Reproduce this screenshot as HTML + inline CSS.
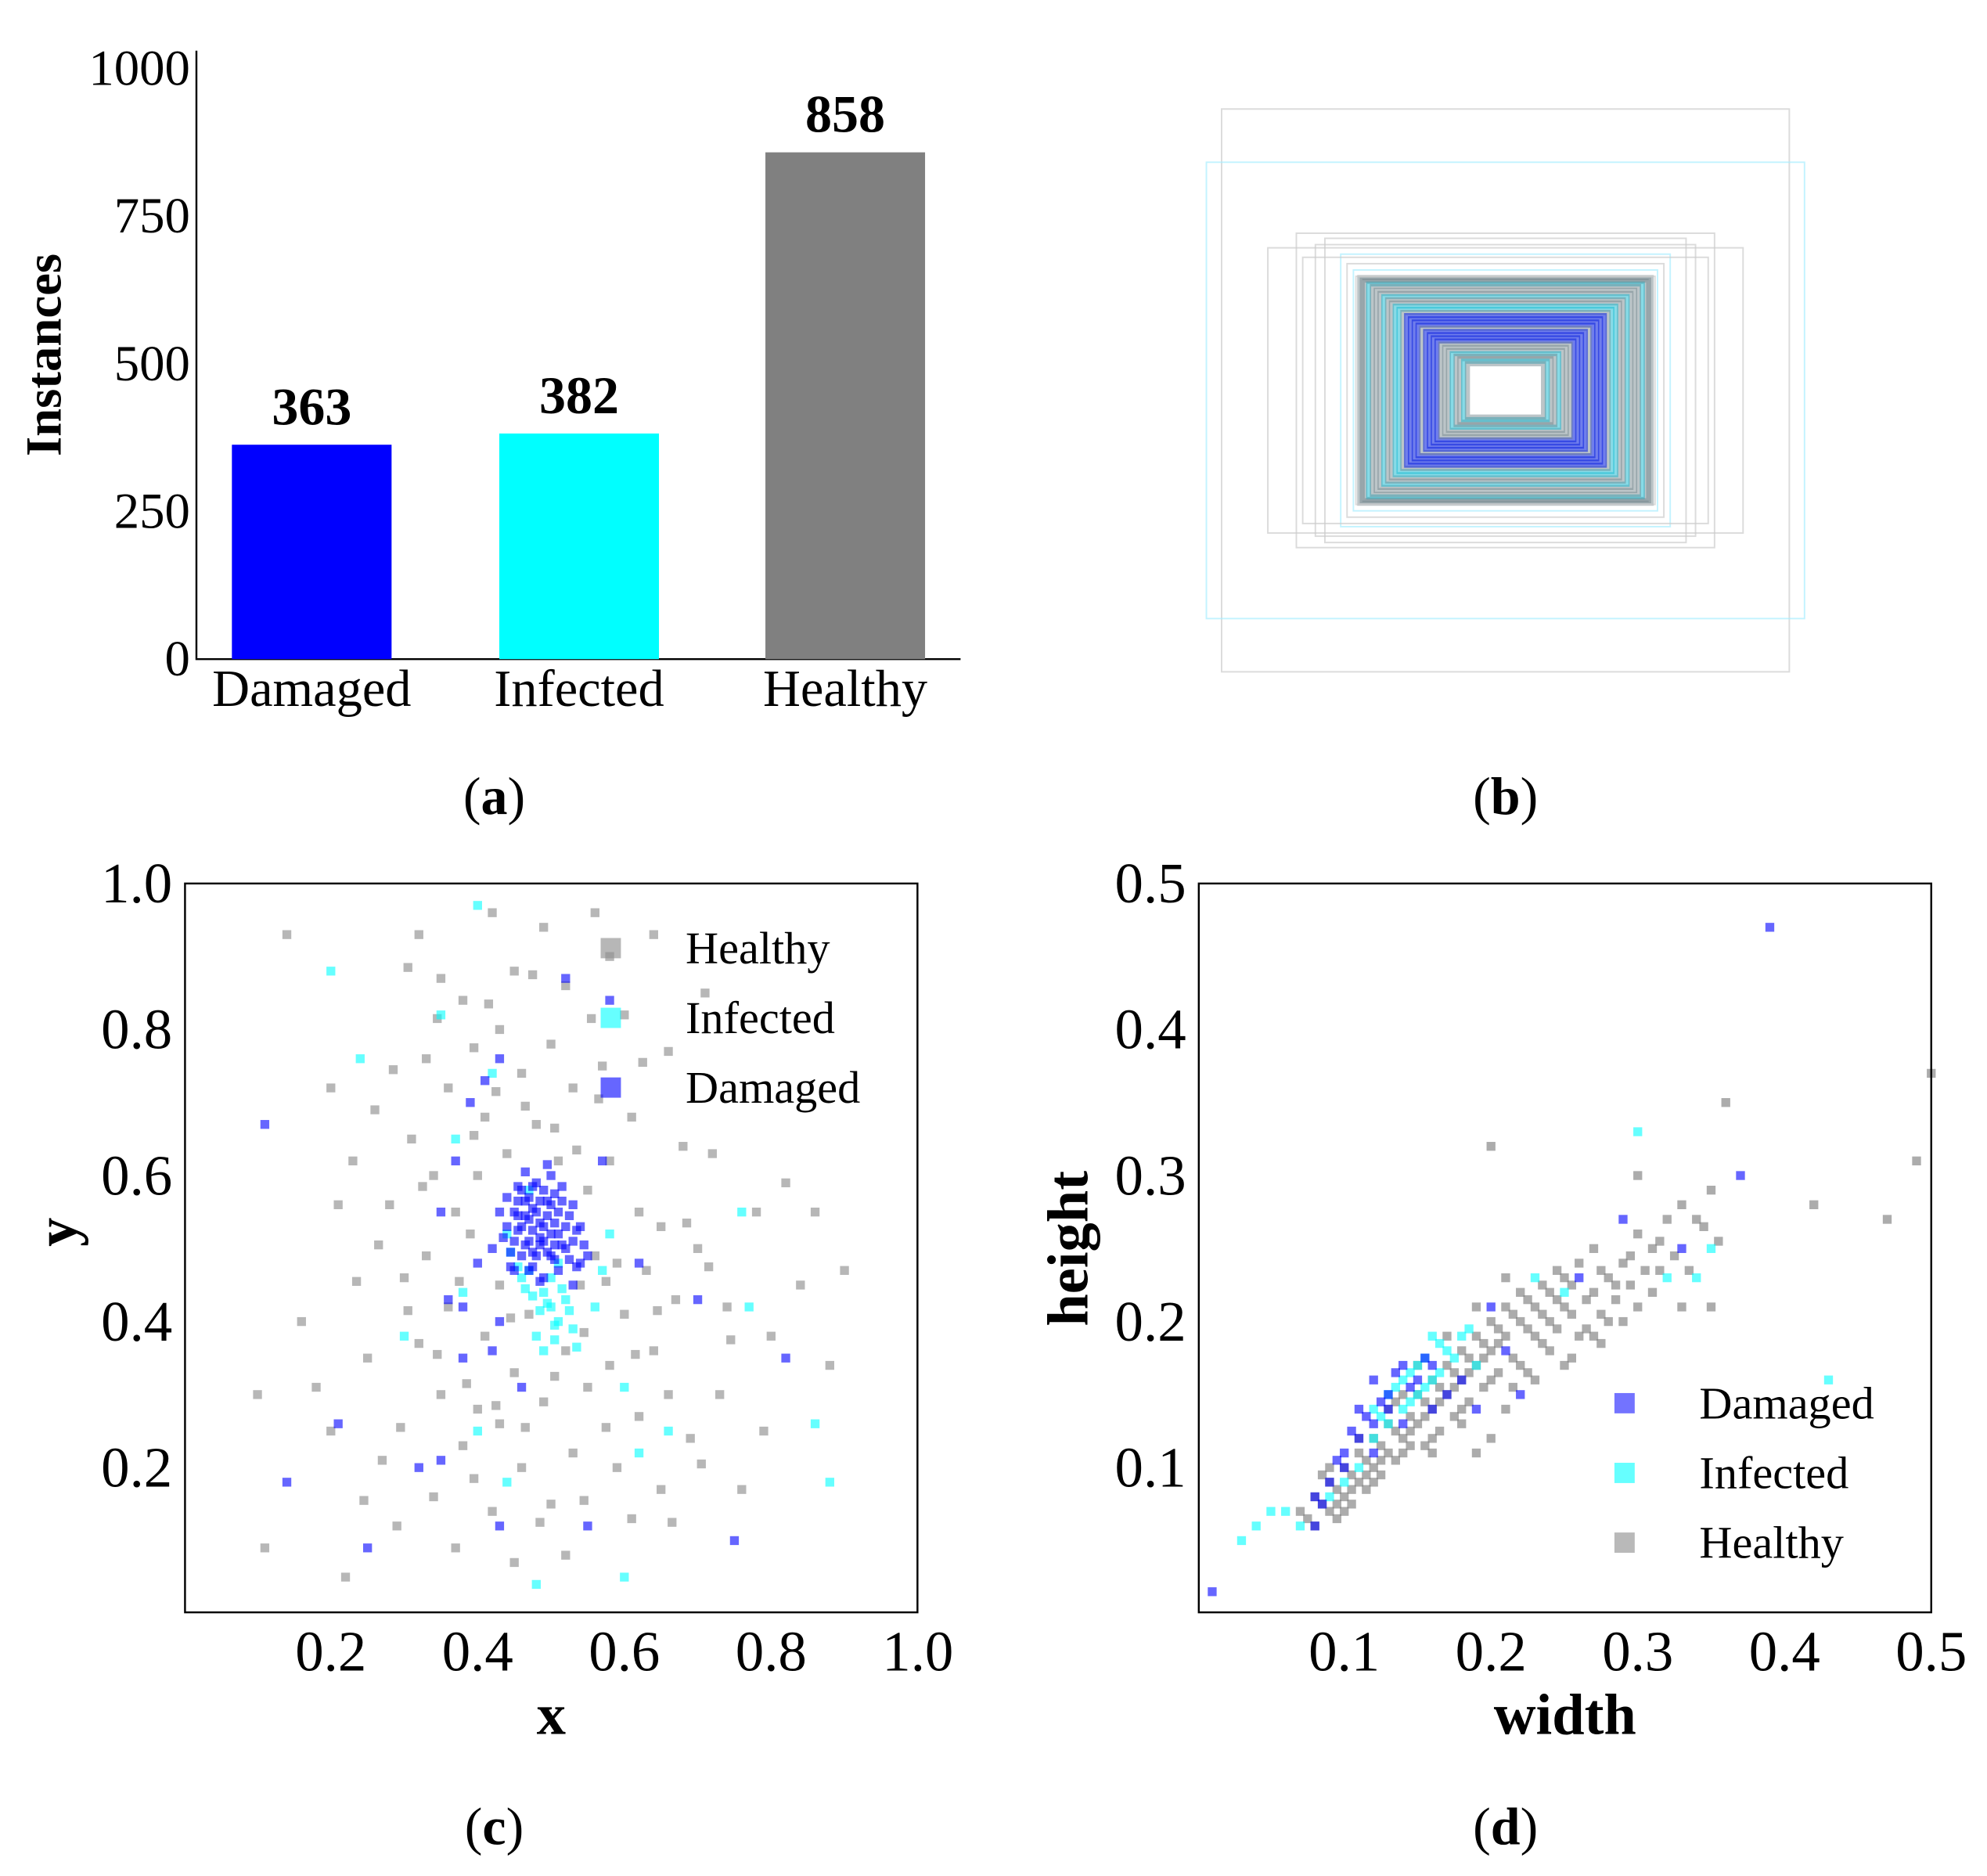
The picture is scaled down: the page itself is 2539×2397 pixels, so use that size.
<!DOCTYPE html>
<html><head><meta charset="utf-8"><style>
html,body{margin:0;padding:0;background:#fff}
svg{display:block;font-family:"Liberation Serif",serif}
</style></head><body>
<svg id="fig" width="2539" height="2397" viewBox="0 0 1568 1480" preserveAspectRatio="none">
<g id="pa"></g>
<g id="pb"></g>
<g id="pc"></g>
<g id="pd"></g>
<text x="390" y="642" font-size="42" text-anchor="middle">(<tspan font-weight="bold">a</tspan>)</text>
<text x="1188" y="642" font-size="42" text-anchor="middle">(<tspan font-weight="bold">b</tspan>)</text>
<text x="390" y="1455" font-size="42" text-anchor="middle">(<tspan font-weight="bold">c</tspan>)</text>
<text x="1188" y="1455" font-size="42" text-anchor="middle">(<tspan font-weight="bold">d</tspan>)</text>
</svg>
<script>
// ---- Panel A data
const barCategories = ["Damaged","Infected","Healthy"];
const barValues = [363, 382, 858];
const barColors = ["#0000ff","#00ffff","#808080"];
const barTicks = [0,250,500,750,1000];
// ---- Panel B data (box width, height in figure px, class)
const boxW = [448,472,285,260,320,375,330,230,222,216,210,204,198,192,186,180,174,168,162,156,150,144,138,132,126,120,114,108,102,96,90,84,78,72,66,60,250,240,300,236,226];
const boxH = [444,360,240,215,210,225,248,178,172,168,164,158,153,148,143,138,133,128,123,118,113,108,103,98,93,88,83,78,73,68,63,58,54,50,46,42,200,190,230,180,174];
const boxCls = [0,1,0,1,0,0,0,0,0,1,0,0,0,1,0,0,1,1,0,2,2,2,2,0,2,2,2,2,0,0,0,1,0,0,1,0,0,1,0,0,0];
// ---- Panel C data
const healthyC = [[0.14,0.93],[0.2,0.72],[0.23,0.62],[0.21,0.56],[0.16,0.4],[0.18,0.31],[0.1,0.3],[0.11,0.09],[0.2,0.25],[0.26,0.69],[0.28,0.56],[0.3,0.46],[0.25,0.35],[0.27,0.21],[0.29,0.12],[0.22,0.05],[0.32,0.93],[0.35,0.87],[0.38,0.84],[0.33,0.76],[0.36,0.72],[0.31,0.65],[0.34,0.6],[0.37,0.55],[0.33,0.49],[0.36,0.42],[0.32,0.37],[0.35,0.3],[0.38,0.23],[0.34,0.16],[0.37,0.09],[0.42,0.96],[0.45,0.88],[0.43,0.8],[0.46,0.74],[0.41,0.68],[0.44,0.63],[0.4,0.6],[0.43,0.45],[0.41,0.38],[0.45,0.33],[0.43,0.26],[0.46,0.2],[0.42,0.14],[0.45,0.07],[0.49,0.94],[0.52,0.86],[0.5,0.78],[0.53,0.72],[0.48,0.67],[0.51,0.62],[0.55,0.58],[0.54,0.45],[0.52,0.36],[0.49,0.29],[0.53,0.22],[0.5,0.15],[0.52,0.08],[0.56,0.96],[0.58,0.9],[0.6,0.82],[0.57,0.75],[0.61,0.68],[0.58,0.62],[0.62,0.55],[0.59,0.48],[0.6,0.41],[0.58,0.34],[0.62,0.27],[0.59,0.2],[0.61,0.13],[0.64,0.93],[0.66,0.77],[0.68,0.64],[0.65,0.53],[0.67,0.43],[0.64,0.36],[0.66,0.3],[0.69,0.24],[0.65,0.17],[0.7,0.5],[0.72,0.63],[0.74,0.42],[0.73,0.3],[0.76,0.17],[0.78,0.55],[0.8,0.38],[0.82,0.59],[0.84,0.45],[0.86,0.55],[0.88,0.34],[0.9,0.47],[0.79,0.25],[0.71,0.85],[0.39,0.52],[0.56,0.49],[0.47,0.41],[0.4,0.28],[0.55,0.31],[0.63,0.47],[0.285,0.745],[0.305,0.885],[0.345,0.815],[0.395,0.775],[0.425,0.715],[0.465,0.695],[0.505,0.665],[0.535,0.635],[0.565,0.705],[0.395,0.655],[0.325,0.585],[0.265,0.505],[0.235,0.455],[0.305,0.415],[0.345,0.355],[0.385,0.315],[0.425,0.285],[0.465,0.255],[0.505,0.325],[0.545,0.385],[0.575,0.255],[0.615,0.355],[0.645,0.415],[0.685,0.535],[0.715,0.475],[0.545,0.155],[0.485,0.125],[0.395,0.185],[0.295,0.255],[0.245,0.155],[0.665,0.125],[0.705,0.205],[0.745,0.375],[0.475,0.875],[0.415,0.835],[0.555,0.815],[0.625,0.755],[0.445,0.405],[0.575,0.455],[0.375,0.455]];
const infectedC = [[0.2,0.88],[0.24,0.76],[0.35,0.82],[0.37,0.65],[0.4,0.97],[0.42,0.74],[0.47,0.58],[0.49,0.44],[0.5,0.42],[0.51,0.4],[0.48,0.38],[0.52,0.43],[0.5,0.46],[0.46,0.46],[0.53,0.39],[0.49,0.36],[0.47,0.47],[0.51,0.48],[0.58,0.52],[0.6,0.31],[0.62,0.22],[0.57,0.47],[0.38,0.44],[0.4,0.25],[0.44,0.18],[0.48,0.04],[0.3,0.38],[0.77,0.42],[0.86,0.26],[0.88,0.18],[0.6,0.05],[0.66,0.25],[0.76,0.55],[0.56,0.42],[0.44,0.52],[0.485,0.415],[0.505,0.395],[0.495,0.425],[0.515,0.445],[0.475,0.435],[0.525,0.415],[0.465,0.445],[0.505,0.375],[0.535,0.365],[0.455,0.475],[0.445,0.495]];
const damagedC = [[0.11,0.67],[0.14,0.18],[0.21,0.26],[0.25,0.09],[0.32,0.2],[0.36,0.43],[0.38,0.35],[0.35,0.55],[0.37,0.62],[0.41,0.73],[0.43,0.76],[0.52,0.87],[0.58,0.84],[0.44,0.57],[0.45,0.55],[0.46,0.53],[0.47,0.51],[0.48,0.55],[0.49,0.53],[0.5,0.52],[0.51,0.55],[0.52,0.53],[0.47,0.57],[0.49,0.58],[0.5,0.56],[0.46,0.49],[0.48,0.49],[0.5,0.49],[0.52,0.5],[0.45,0.51],[0.53,0.51],[0.44,0.53],[0.47,0.47],[0.49,0.46],[0.51,0.47],[0.48,0.59],[0.46,0.58],[0.53,0.56],[0.43,0.55],[0.54,0.53],[0.45,0.47],[0.5,0.6],[0.47,0.54],[0.49,0.51],[0.51,0.52],[0.55,0.49],[0.42,0.5],[0.4,0.48],[0.54,0.48],[0.53,0.45],[0.38,0.42],[0.42,0.36],[0.46,0.31],[0.35,0.21],[0.43,0.12],[0.55,0.12],[0.62,0.48],[0.7,0.43],[0.75,0.1],[0.82,0.35],[0.57,0.62],[0.39,0.7],[0.43,0.4],[0.455,0.545],[0.465,0.565],[0.475,0.525],[0.485,0.505],[0.495,0.545],[0.505,0.535],[0.515,0.505],[0.525,0.545],[0.485,0.565],[0.465,0.505],[0.455,0.525],[0.495,0.495],[0.505,0.575],[0.475,0.585],[0.445,0.495],[0.535,0.525],[0.475,0.495],[0.515,0.565],[0.465,0.545],[0.485,0.535],[0.495,0.565],[0.505,0.505],[0.455,0.565],[0.525,0.485],[0.435,0.515],[0.545,0.505],[0.475,0.475],[0.485,0.455],[0.465,0.605],[0.495,0.615],[0.455,0.585],[0.515,0.585],[0.535,0.475],[0.445,0.475],[0.485,0.515],[0.475,0.555],[0.505,0.485]];
// ---- Panel D data (width, height)
const damagedD = [[0.01,0.015],[0.08,0.06],[0.1,0.1],[0.11,0.12],[0.12,0.13],[0.1,0.11],[0.09,0.09],[0.13,0.15],[0.12,0.16],[0.14,0.17],[0.13,0.14],[0.11,0.14],[0.15,0.16],[0.16,0.17],[0.12,0.11],[0.17,0.15],[0.18,0.16],[0.2,0.21],[0.21,0.18],[0.26,0.23],[0.29,0.27],[0.33,0.25],[0.37,0.3],[0.39,0.47],[0.22,0.15],[0.14,0.13],[0.16,0.14],[0.08,0.08],[0.19,0.14],[0.105,0.125],[0.115,0.135],[0.125,0.145],[0.135,0.165],[0.095,0.105],[0.145,0.155],[0.155,0.175],[0.085,0.075]];
const infectedD = [[0.03,0.05],[0.04,0.06],[0.05,0.07],[0.06,0.07],[0.07,0.06],[0.09,0.08],[0.11,0.1],[0.12,0.14],[0.13,0.15],[0.14,0.16],[0.15,0.17],[0.13,0.13],[0.14,0.14],[0.16,0.19],[0.15,0.15],[0.17,0.18],[0.12,0.12],[0.16,0.16],[0.18,0.19],[0.19,0.17],[0.25,0.22],[0.3,0.33],[0.32,0.23],[0.34,0.23],[0.35,0.25],[0.43,0.16],[0.23,0.23],[0.1,0.09],[0.135,0.155],[0.145,0.165],[0.155,0.155],[0.165,0.185],[0.175,0.175],[0.125,0.135],[0.185,0.195],[0.145,0.145],[0.155,0.175],[0.165,0.165]];
const healthyD = [[0.07,0.07],[0.08,0.06],[0.08,0.08],[0.09,0.07],[0.09,0.09],[0.1,0.08],[0.1,0.1],[0.11,0.09],[0.11,0.11],[0.12,0.1],[0.12,0.12],[0.13,0.11],[0.13,0.13],[0.14,0.12],[0.14,0.15],[0.15,0.13],[0.15,0.15],[0.16,0.14],[0.16,0.16],[0.17,0.15],[0.17,0.17],[0.18,0.16],[0.18,0.18],[0.19,0.17],[0.19,0.19],[0.2,0.18],[0.2,0.2],[0.21,0.19],[0.21,0.21],[0.22,0.2],[0.22,0.22],[0.23,0.21],[0.23,0.19],[0.24,0.22],[0.24,0.2],[0.25,0.23],[0.25,0.21],[0.26,0.24],[0.27,0.22],[0.27,0.25],[0.28,0.23],[0.29,0.24],[0.3,0.26],[0.31,0.25],[0.32,0.27],[0.33,0.28],[0.34,0.27],[0.35,0.29],[0.36,0.35],[0.3,0.3],[0.2,0.32],[0.42,0.28],[0.47,0.27],[0.49,0.31],[0.5,0.37],[0.21,0.23],[0.19,0.21],[0.17,0.19],[0.15,0.17],[0.13,0.14],[0.11,0.12],[0.09,0.1],[0.1,0.07],[0.12,0.09],[0.14,0.11],[0.16,0.12],[0.18,0.14],[0.2,0.16],[0.22,0.17],[0.24,0.18],[0.26,0.19],[0.28,0.2],[0.3,0.21],[0.18,0.13],[0.2,0.12],[0.19,0.11],[0.16,0.11],[0.21,0.14],[0.23,0.16],[0.25,0.17],[0.27,0.19],[0.29,0.2],[0.31,0.22],[0.33,0.21],[0.35,0.21],[0.075,0.065],[0.085,0.075],[0.095,0.085],[0.105,0.095],[0.115,0.105],[0.125,0.115],[0.135,0.125],[0.145,0.135],[0.155,0.145],[0.165,0.155],[0.175,0.165],[0.185,0.175],[0.195,0.185],[0.205,0.195],[0.215,0.205],[0.225,0.215],[0.235,0.205],[0.245,0.215],[0.255,0.225],[0.265,0.215],[0.275,0.235],[0.285,0.225],[0.295,0.245],[0.305,0.235],[0.315,0.255],[0.325,0.245],[0.345,0.265],[0.355,0.255],[0.085,0.095],[0.095,0.075],[0.105,0.085],[0.115,0.095],[0.125,0.105],[0.135,0.145],[0.145,0.125],[0.155,0.135],[0.165,0.145],[0.175,0.155],[0.185,0.165],[0.195,0.175],[0.205,0.185],[0.215,0.175],[0.225,0.195],[0.235,0.185],[0.245,0.195],[0.255,0.205],[0.265,0.195],[0.275,0.205],[0.285,0.215],[0.205,0.165],[0.195,0.155],[0.185,0.145],[0.215,0.155],[0.225,0.165],[0.175,0.135],[0.165,0.125],[0.155,0.115],[0.105,0.075],[0.095,0.065],[0.115,0.085],[0.125,0.095],[0.135,0.105],[0.145,0.115],[0.295,0.225],[0.315,0.235],[0.335,0.235],[0.245,0.235],[0.235,0.225],[0.275,0.185],[0.255,0.175]];

const NS="http://www.w3.org/2000/svg";
function el(parent,tag,attrs,text){const e=document.createElementNS(NS,tag);for(const k in attrs)e.setAttribute(k,attrs[k]);if(text!==undefined)e.textContent=text;parent.appendChild(e);return e;}

// ---- Panel A
const pa=document.getElementById('pa');
const ay=v=>520-v*0.466;
const barX=[183,394,604], barW=126;
let ln=el(pa,'path',{d:'M155 40 V520 H758',stroke:'#000','stroke-width':1.5,fill:'none'});


barTicks.forEach(t=>{
  const tx=el(pa,'text',{x:150,y:ay(t)+13,'font-size':40,'text-anchor':'end'},String(t));
  
  
});
barValues.forEach((v,i)=>{
  const r=el(pa,'rect',{x:barX[i],y:ay(v),width:barW,height:520-ay(v),fill:barColors[i]});
  
  
  const vl=el(pa,'text',{x:barX[i]+barW/2,y:ay(v)-16,'font-size':42,'font-weight':'bold','text-anchor':'middle'},String(v));
  
  
  const cl=el(pa,'text',{x:barX[i]+barW/2,y:557,'font-size':41,'text-anchor':'middle'},barCategories[i]);
  
  
});
let yt=el(pa,'text',{x:0,y:0,'font-size':40,'font-weight':'bold','text-anchor':'middle',transform:'translate(48,280) rotate(-90)'},'Instances');



// ---- Panel B
const pb=document.getElementById('pb');
const bcol=['#6a7f85','#10b8d0','#1028e0'];
const bop=[0.45,0.5,0.6];
boxW.forEach((w,i)=>{
  const h=boxH[i];
  const big=w>235;
  const r=el(pb,'rect',{x:1188-w/2,y:308-h/2,width:w,height:h,fill:'none',stroke:big?(boxCls[i]==1?'#aef':'#ccc'):bcol[boxCls[i]],'stroke-opacity':big?0.7:bop[boxCls[i]],'stroke-width':big?1.2:4});
  
  
});

// ---- scatter helper
function scatter(g,pts,sx,sy,color,op,name){
  pts.forEach(p=>{
    const r=el(g,'rect',{x:sx(p[0])-3.5,y:sy(p[1])-3.5,width:7,height:7,fill:color,'fill-opacity':op});
    
    
  });
}
function axesBox(g,x0,y0,x1,y1){
  const r=el(g,'rect',{x:x0,y:y0,width:x1-x0,height:y1-y0,fill:'none',stroke:'#000','stroke-width':1.5});
  
  
}
function legend(g,x,y,entries){
  entries.forEach((e,i)=>{
    const s=el(g,'rect',{x:x-8,y:y+i*55-8,width:16,height:16,fill:e[1],'fill-opacity':e[2]});
    
    
    const t=el(g,'text',{x:x+59,y:y+i*55+12,'font-size':36},e[0]);
    
    
  });
}

// ---- Panel C
const pc=document.getElementById('pc');
const cx=v=>145.3+v*579, cy=v=>1273-v*576;
const cTicksX=[0.2,0.4,0.6,0.8,1.0], cTicksY=[0.2,0.4,0.6,0.8,1.0];
scatter(pc,healthyC,cx,cy,'#909090',0.65,'point-healthy');
scatter(pc,infectedC,cx,cy,'#00ffff',0.6,'point-infected');
scatter(pc,damagedC,cx,cy,'#0000ff',0.6,'point-damaged');
axesBox(pc,146,697,724,1272);
cTicksX.forEach(t=>{const tx=el(pc,'text',{x:cx(t),y:1318,'font-size':45,'text-anchor':'middle'},t.toFixed(1));});
cTicksY.forEach(t=>{const tx=el(pc,'text',{x:136,y:cy(t)+15,'font-size':45,'text-anchor':'end'},t.toFixed(1));});
legend(pc,482,748,[['Healthy','#909090',0.65],['Infected','#00ffff',0.6],['Damaged','#0000ff',0.6]]);
let cxT=el(pc,'text',{x:435,y:1368,'font-size':46,'font-weight':'bold','text-anchor':'middle'},'x');


let cyT=el(pc,'text',{x:0,y:0,'font-size':46,'font-weight':'bold','text-anchor':'middle',transform:'translate(60,972) rotate(-90)'},'y');



// ---- Panel D
const pd=document.getElementById('pd');
const dx=v=>945+v*1158, dy=v=>1273-v*1152;
const dTicksX=[0.1,0.2,0.3,0.4,0.5], dTicksY=[0.1,0.2,0.3,0.4,0.5];
scatter(pd,healthyD,dx,dy,'#808080',0.65,'point-healthy');
scatter(pd,infectedD,dx,dy,'#00ffff',0.6,'point-infected');
scatter(pd,damagedD,dx,dy,'#0000ff',0.6,'point-damaged');
axesBox(pd,946,697,1524,1272);
dTicksX.forEach(t=>{const tx=el(pd,'text',{x:dx(t),y:1318,'font-size':45,'text-anchor':'middle'},t.toFixed(1));});
dTicksY.forEach(t=>{const tx=el(pd,'text',{x:936,y:dy(t)+15,'font-size':45,'text-anchor':'end'},t.toFixed(1));});
legend(pd,1282,1107,[['Damaged','#0000ff',0.55],['Infected','#00ffff',0.6],['Healthy','#808080',0.55]]);
let dxT=el(pd,'text',{x:1235,y:1368,'font-size':46,'font-weight':'bold','text-anchor':'middle'},'width');


let dyT=el(pd,'text',{x:0,y:0,'font-size':46,'font-weight':'bold','text-anchor':'middle',transform:'translate(858,985) rotate(-90)'},'height');


</script>
</body></html>
